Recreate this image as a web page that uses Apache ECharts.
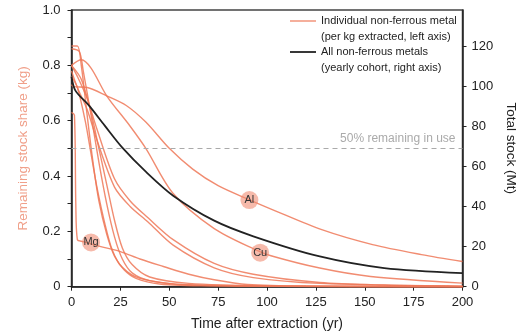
<!DOCTYPE html>
<html>
<head>
    <meta charset="utf-8">
    <title>Non-ferrous metal stocks</title>
    <style>
        html, body { margin: 0; padding: 0; background: #fff; }
        #chart { width: 518px; height: 333px; }
    </style>
</head>
<body>
    <div id="chart"></div>
    <script src="https://cdn.jsdelivr.net/npm/echarts@6/dist/echarts.min.js"></script>
    <script>
        // 数据: [年份, 剩余份额(kg)] —— 左轴
        var alCurve = [[0, 0.73], [1, 0.723], [8, 0.72], [18, 0.69], [28, 0.655], [38, 0.595], [50, 0.50], [62, 0.425], [75, 0.365], [91, 0.314], [103, 0.278], [128, 0.206], [154, 0.152], [179, 0.116], [200, 0.091]];
        var cuCurve = [[0, 0.80], [5, 0.82], [10, 0.79], [18, 0.69], [30, 0.58], [38, 0.50], [52, 0.337], [73, 0.21], [94, 0.134], [102, 0.112], [127, 0.0675], [153, 0.037], [200, 0.013]];
        var mgCurve = [[0, 0.63], [1.5, 0.62], [2.2, 0.3], [3, 0.17], [6, 0.163], [15, 0.145], [25, 0.127], [35, 0.1], [47, 0.073], [60, 0.045], [73, 0.025], [90, 0.008], [120, 0.002], [200, 0]];
        var midA = [[0, 0.80], [3, 0.76], [8, 0.68], [13, 0.57], [22, 0.39], [30, 0.31], [39, 0.25], [52, 0.17], [73, 0.084], [93, 0.045], [127, 0.015], [160, 0.006], [200, 0.002]];
        var midB = [[0, 0.78], [3, 0.72], [8, 0.64], [13, 0.53], [22, 0.36], [30, 0.29], [39, 0.235], [52, 0.15], [73, 0.068], [93, 0.033], [127, 0.012], [200, 0.002]];
        var steep1 = [[0, 0.87], [3, 0.87], [5, 0.80], [8, 0.62], [11, 0.45], [14, 0.31], [18, 0.19], [22, 0.11], [27, 0.06], [33, 0.03], [45, 0.01], [70, 0.003], [200, 0]];
        var steep2 = [[0, 0.86], [4, 0.85], [6, 0.78], [10, 0.62], [14, 0.45], [18, 0.30], [22, 0.18], [26, 0.10], [31, 0.05], [40, 0.022], [60, 0.007], [100, 0.002], [200, 0]];
        var steep3 = [[0, 0.80], [5, 0.75], [10, 0.63], [14, 0.50], [18, 0.37], [22, 0.24], [26, 0.14], [31, 0.08], [40, 0.035], [60, 0.012], [100, 0.003], [200, 0]];
        var steep4 = [[0, 0.76], [3, 0.72], [7, 0.60], [10, 0.48], [13, 0.36], [17, 0.23], [21, 0.13], [26, 0.07], [35, 0.03], [60, 0.006], [200, 0]];
        // 所有有色金属总量 (Mt) —— 右轴
        var totalStock = [[0, 105], [2, 98], [9, 90.5], [17, 80.5], [26, 69.5], [38, 57.5], [52, 45.5], [73, 33], [93, 25.2], [127, 15.1], [160, 9.3], [200, 6.8]];

        var xTicks = { min: 0, max: 200, step: 25 };
        var leftTicks = { min: 0, max: 1, step: 0.2 };
        var rightTicks = { min: 0, max: 138.3, step: 20 };

        // 标注 (金属名)
        var metalTags = [
            { name: 'Al', coord: [91, 0.313] },
            { name: 'Cu', coord: [96.5, 0.123] },
            { name: 'Mg', coord: [10, 0.16] }
        ];

        var ORANGE = 'rgba(238,120,88,0.85)';
        var FONT = 'Liberation Sans, Arial, sans-serif';

        var myChart = echarts.init(document.getElementById('chart'));

        var orangeSets = [alCurve, cuCurve, mgCurve, midA, midB, steep1, steep2, steep3, steep4];
        var series = orangeSets.map(function (d, i) {
            var s = {
                type: 'line',
                yAxisIndex: 0,
                data: d,
                smooth: 0.3,
                showSymbol: false,
                silent: true,
                z: 2,
                lineStyle: { color: ORANGE, width: 1.4 }
            };
            if (i === 0) {
                s.markLine = {
                    silent: true,
                    symbol: 'none',
                    lineStyle: { color: '#aaa', type: [5, 4], width: 1 },
                    label: {
                        show: true, position: 'insideEndTop', formatter: '50% remaining in use',
                        color: '#aaa', fontSize: 12, fontFamily: FONT, distance: [7, 4]
                    },
                    data: [{ yAxis: 0.5 }]
                };
                s.markPoint = {
                    silent: true,
                    symbol: 'circle',
                    symbolSize: 18,
                    itemStyle: { color: 'rgba(240,140,115,0.6)' },
                    label: { show: true, formatter: '{b}', color: '#333', fontSize: 11, fontFamily: FONT },
                    data: metalTags
                };
            }
            return s;
        });
        series.push({
            type: 'line',
            yAxisIndex: 1,
            data: totalStock,
            smooth: 0.3,
            showSymbol: false,
            silent: true,
            z: 3,
            lineStyle: { color: '#222', width: 1.8 }
        });

        var option = {
            animation: false,
            textStyle: { fontFamily: FONT },
            grid: {
                left: 71.5, right: 55.5, top: 10, bottom: 46.3,
                outerBoundsMode: 'none',
                show: true, borderColor: '#444', borderWidth: 1.5
            },
            xAxis: {
                type: 'value',
                min: xTicks.min, max: xTicks.max, interval: xTicks.step,
                name: 'Time after extraction (yr)',
                nameLocation: 'middle', nameGap: 30,
                nameTextStyle: { color: '#222', fontSize: 14 },
                axisLine: { lineStyle: { color: '#222', width: 1.5 } },
                axisTick: { length: 4, lineStyle: { color: '#222' } },
                axisLabel: { color: '#222', fontSize: 13, margin: 9 },
                splitLine: { show: false }
            },
            yAxis: [{
                type: 'value',
                min: leftTicks.min, max: leftTicks.max, interval: leftTicks.step,
                name: 'Remaining stock share (kg)',
                nameLocation: 'middle', nameGap: 41, nameRotate: 90,
                nameTextStyle: { color: '#f0a08a', fontSize: 13.5 },
                axisLine: { show: true, lineStyle: { color: '#222', width: 1.5 } },
                axisTick: { length: 4, lineStyle: { color: '#222' } },
                minorTick: { show: true, splitNumber: 2, length: 4, lineStyle: { color: '#222' } },
                axisLabel: {
                    color: '#222', fontSize: 13, margin: 11,
                    formatter: function (v) { return v === 0 ? '0' : v.toFixed(1); }
                },
                splitLine: { show: false }
            }, {
                type: 'value',
                position: 'right',
                min: rightTicks.min, max: rightTicks.max, interval: rightTicks.step,
                name: 'Total stock (Mt)',
                nameLocation: 'middle', nameGap: 40, nameRotate: -90,
                nameTextStyle: { color: '#222', fontSize: 13.5 },
                axisLine: { show: true, lineStyle: { color: '#222', width: 1.5 } },
                axisTick: { length: 4, lineStyle: { color: '#222' } },
                axisLabel: { color: '#222', fontSize: 13, margin: 9, showMaxLabel: false },
                splitLine: { show: false }
            }],
            graphic: [
                { type: 'line', shape: { x1: 290, y1: 21, x2: 316, y2: 21 }, style: { stroke: ORANGE, lineWidth: 1.4 } },
                { type: 'text', left: 321, top: 15, style: { text: 'Individual non-ferrous metal', fill: '#222', font: '11px ' + FONT } },
                { type: 'text', left: 321, top: 31, style: { text: '(per kg extracted, left axis)', fill: '#222', font: '11px ' + FONT } },
                { type: 'line', shape: { x1: 290, y1: 52, x2: 316, y2: 52 }, style: { stroke: '#222', lineWidth: 1.8 } },
                { type: 'text', left: 321, top: 46, style: { text: 'All non-ferrous metals', fill: '#222', font: '11px ' + FONT } },
                { type: 'text', left: 321, top: 62, style: { text: '(yearly cohort, right axis)', fill: '#222', font: '11px ' + FONT } }
            ],
            series: series
        };

        myChart.setOption(option);
    </script>
</body>
</html>
